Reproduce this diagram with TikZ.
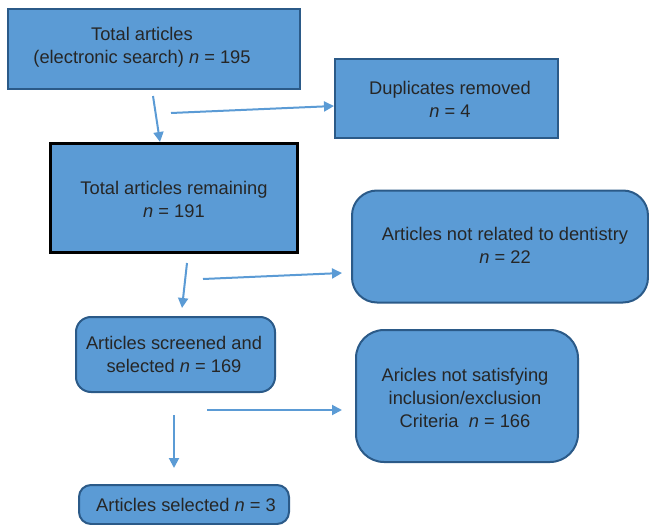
\documentclass[tikz,border=0pt]{standalone}
\usepackage{fontspec}
\setmainfont{Liberation Sans}
\usetikzlibrary{arrows.meta}
\definecolor{boxfill}{HTML}{5B9BD5}
\definecolor{boxline}{HTML}{2B5A88}
\definecolor{arrcol}{HTML}{5B9BD5}
\definecolor{txt}{HTML}{262626}
\begin{document}
\begin{tikzpicture}[x=1pt,y=-1pt,
  box/.style={draw=boxline, line width=2pt, fill=boxfill, inner sep=0pt},
  lbl/.style={text=txt, align=center, inner sep=0pt, font=\fontsize{18.3}{23}\selectfont},
  arr/.style={draw=arrcol, line width=2pt, -{Triangle[length=10pt,width=10pt]}}]
\useasboundingbox (0,0) rectangle (649,525);
% boxes
\node[box, minimum width=292pt, minimum height=80pt] (b1) at (154,49) {};
\node[box, minimum width=223pt, minimum height=79pt] (b2) at (446.5,98.5) {};
\node[box, draw=black, line width=3pt, minimum width=247pt, minimum height=109pt] (b3) at (173.5,197.5) {};
\node[box, rounded corners=25pt, minimum width=296pt, minimum height=112pt] (b4) at (500,246.5) {};
\node[box, rounded corners=15pt, minimum width=199pt, minimum height=75pt] (b5) at (175.5,354.5) {};
\node[box, rounded corners=28pt, minimum width=222pt, minimum height=132pt] (b6) at (467,396) {};
\node[box, rounded corners=12pt, minimum width=210pt, minimum height=39pt] (b7) at (184,504.5) {};
% texts
\node[lbl] (t1) at (142,47) {Total articles\\(electronic search) \textit{n} = 195};
\node[lbl] (t2) at (450,99) {Duplicates removed\\\textit{n} = 4};
\node[lbl] (t3) at (174,199) {Total articles remaining\\\textit{n} = 191};
\node[lbl] (t4) at (505,245) {Articles not related to dentistry\\\textit{n} = 22};
\node[lbl] (t5) at (174,354) {Articles screened and\\selected \textit{n} = 169};
\node[lbl] (t6) at (465,398) {Aricles not satisfying\\inclusion/exclusion\\Criteria~~\textit{n} = 166};
\node[lbl] (t7) at (186,505) {Articles selected \textit{n} = 3};
% arrows
\coordinate (a1s) at (153,96);  \coordinate (a1e) at (160,142);
\coordinate (a2s) at (171,113); \coordinate (a2e) at (334,106);
\coordinate (a3s) at (187,263); \coordinate (a3e) at (182,308);
\coordinate (a4s) at (203,279); \coordinate (a4e) at (342,273);
\coordinate (a5s) at (174,415); \coordinate (a5e) at (174,468);
\coordinate (a6s) at (207,410); \coordinate (a6e) at (342,410);
\draw[arr] (a1s) -- (a1e);
\draw[arr] (a2s) -- (a2e);
\draw[arr] (a3s) -- (a3e);
\draw[arr] (a4s) -- (a4e);
\draw[arr] (a5s) -- (a5e);
\draw[arr] (a6s) -- (a6e);
\end{tikzpicture}
\end{document}
